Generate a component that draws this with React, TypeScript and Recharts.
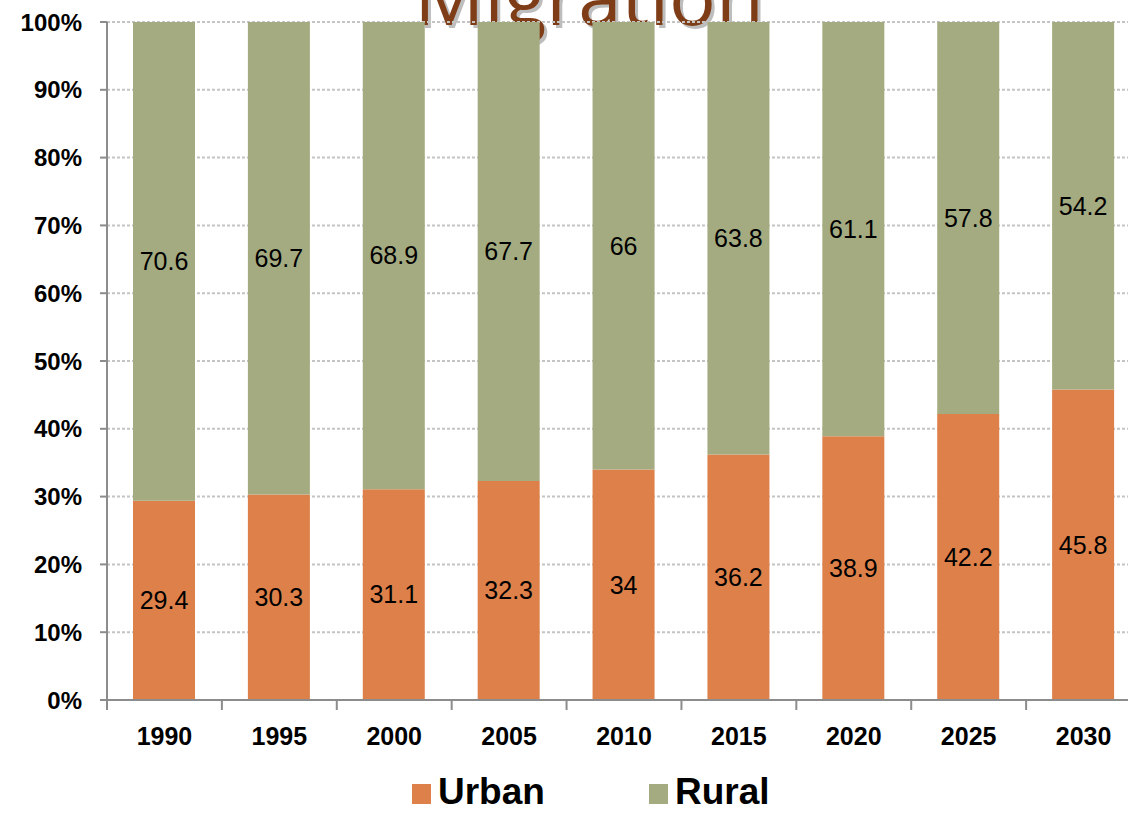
import React from "react";
import {
  BarChart,
  Bar,
  XAxis,
  YAxis,
  CartesianGrid,
  LabelList,
} from "recharts";

const years = ["1990", "1995", "2000", "2005", "2010", "2015", "2020", "2025", "2030"];
const urban = [29.4, 30.3, 31.1, 32.3, 34, 36.2, 38.9, 42.2, 45.8];
const rural = [70.6, 69.7, 68.9, 67.7, 66, 63.8, 61.1, 57.8, 54.2];
const yTicks = [0, 10, 20, 30, 40, 50, 60, 70, 80, 90, 100];

const SERIES = [
  { key: "urban", name: "Urban", color: "#DE8049" },
  { key: "rural", name: "Rural", color: "#A4AB80" },
];

const data = years.map((year, i) => ({ year, urban: urban[i], rural: rural[i] }));

const FONT = '"Liberation Sans", Arial, sans-serif';
const CHART_W = 1160;
const CHART_H = 813;
const MARGIN = { top: 22, right: 19, left: 0, bottom: 53 };
const Y_W = 107;
const BAND = (CHART_W - MARGIN.left - MARGIN.right - Y_W) / years.length;

// year label plus a tick mark on the left edge of each category
function YearTick(props: any) {
  const { x, y, payload } = props;
  const bx = x - BAND / 2;
  return (
    <g>
      <line x1={bx} y1={y - 8} x2={bx} y2={y + 2} stroke="#8c8c8c" strokeWidth={2} />
      <text
        x={x}
        y={y + 37}
        textAnchor="middle"
        fontFamily={FONT}
        fontWeight="bold"
        fontSize={25}
        fill="#000"
      >
        {payload.value}
      </text>
    </g>
  );
}

export default function App() {
  return (
    <div
      style={{
        position: "absolute",
        left: 0,
        top: 0,
        width: 1128,
        height: 813,
        overflow: "hidden",
        background: "#fff",
      }}
    >
      {/* title sits behind the bars, cut off at the top */}
      <div
        style={{
          position: "absolute",
          left: 0,
          width: 1178,
          top: -60,
          textAlign: "center",
          fontFamily: '"Open Sans", sans-serif',
          fontSize: 78,
          lineHeight: "110px",
          color: "#7F3D17",
          textShadow: "3px 3px 0 #bdbdbd",
        }}
      >
        Migration
      </div>
      <div style={{ position: "absolute", left: 0, top: 0 }}>
        <BarChart width={CHART_W} height={CHART_H} data={data} margin={MARGIN} barSize={62}>
          <CartesianGrid
            vertical={false}
            stroke="#c4c4c4"
            strokeWidth={2}
            strokeDasharray="3 2"
          />
          <XAxis
            dataKey="year"
            tick={<YearTick />}
            tickLine={false}
            axisLine={{ stroke: "#8c8c8c", strokeWidth: 2 }}
            height={60}
            interval={0}
          />
          <YAxis
            domain={[0, 100]}
            ticks={yTicks}
            width={Y_W}
            tickFormatter={(v: number) => `${v}%`}
            tickSize={7}
            tickMargin={18}
            tickLine={{ stroke: "#8c8c8c", strokeWidth: 2 }}
            axisLine={{ stroke: "#8c8c8c", strokeWidth: 2 }}
            tick={{ fill: "#000", fontFamily: FONT, fontWeight: "bold", fontSize: 24 }}
            interval={0}
          />
          {SERIES.map((s) => (
            <Bar key={s.key} dataKey={s.key} name={s.name} stackId="a" fill={s.color} isAnimationActive={false}>
              <LabelList
                dataKey={s.key}
                position="center"
                fill="#000"
                fontFamily={FONT}
                fontSize={25}
              />
            </Bar>
          ))}
        </BarChart>
      </div>
      <div
        style={{
          position: "absolute",
          left: 412,
          top: 772,
          display: "flex",
          alignItems: "center",
          fontFamily: FONT,
          fontWeight: "bold",
          fontSize: 37,
          lineHeight: "40px",
          color: "#000",
        }}
      >
        {SERIES.map((s, i) => (
          <div key={s.key} style={{ display: "flex", alignItems: "center", marginLeft: i === 0 ? 0 : 104 }}>
            <span style={{ width: 19, height: 20, background: s.color, marginRight: 7, marginTop: 4 }} />
            <span>{s.name}</span>
          </div>
        ))}
      </div>
    </div>
  );
}
